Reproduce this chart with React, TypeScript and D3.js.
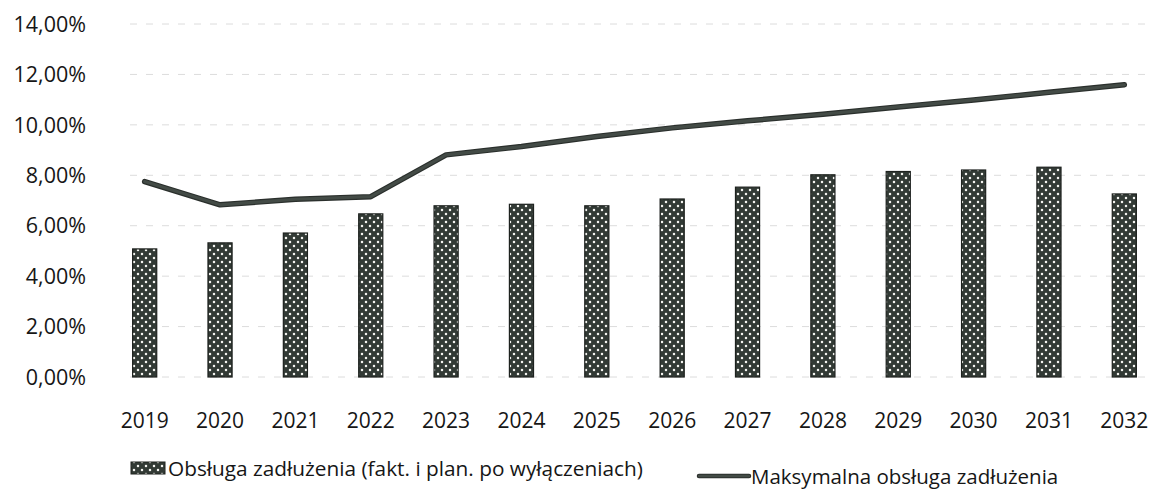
import React from "react";
import * as d3 from "d3";

const years = ["2019", "2020", "2021", "2022", "2023", "2024", "2025", "2026", "2027", "2028", "2029", "2030", "2031", "2032"];
const debtService = [5.08, 5.32, 5.71, 6.47, 6.79, 6.85, 6.79, 7.06, 7.53, 8.02, 8.15, 8.21, 8.32, 7.26];
const maxDebtService = [7.75, 6.83, 7.05, 7.15, 8.81, 9.14, 9.54, 9.88, 10.16, 10.42, 10.71, 10.99, 11.29, 11.59];
const yTicks = [0, 2, 4, 6, 8, 10, 12, 14];

const barLabel = "Obsługa zadłużenia (fakt. i plan. po wyłączeniach)";
const lineLabel = "Maksymalna obsługa zadłużenia";

const font = "'Open Sans', sans-serif";
const textColor = "#161616";
const barColor = "#323a35";
const lineColor = "#434b46";

export default function App() {
  const width = 1150;
  const height = 495;

  const x = d3.scaleBand<string>().domain(years).range([107, 1162]).paddingInner(0.68).paddingOuter(0.34);
  const y = d3.scaleLinear().domain([0, 14]).range([377, 24]);

  const line = d3
    .line<number>()
    .x((_, i) => (x(years[i]) as number) + x.bandwidth() / 2)
    .y((d) => y(d));

  const fmt = (v: number) => v.toFixed(2).replace(".", ",") + "%";

  return (
    <svg width={width} height={height} style={{ position: "absolute", left: 0, top: 0, background: "#fff" }}>
      <defs>
        <pattern id="dots" width="8" height="8" patternUnits="userSpaceOnUse">
          <rect width="8" height="8" fill={barColor} />
          <circle cx="2" cy="2" r="1.25" fill="#f4f4f0" />
          <circle cx="6" cy="6" r="1.25" fill="#f4f4f0" />
        </pattern>
      </defs>

      {/* grid */}
      {yTicks.map((t) => (
        <line
          key={"g" + t}
          x1={130}
          x2={1150}
          y1={y(t)}
          y2={y(t)}
          stroke="#dcdcdc"
          strokeWidth={1}
          strokeDasharray="7,9"
        />
      ))}

      {/* y ticks */}
      {yTicks.map((t) => (
        <text
          key={"t" + t}
          x={86}
          y={y(t)}
          dy="0.36em"
          textAnchor="end"
          fontFamily={font}
          fontSize={21.5}
          fill={textColor}
        >
          {fmt(t)}
        </text>
      ))}

      {/* bars */}
      {debtService.map((v, i) => (
        <rect
          key={"b" + i}
          x={x(years[i])}
          y={y(v)}
          width={x.bandwidth()}
          height={y(0) - y(v)}
          fill="url(#dots)"
          stroke="#1e221f"
          strokeWidth={1.2}
        />
      ))}

      {/* line */}
      <path d={line(maxDebtService) || ""} fill="none" stroke="#2a2f2c" strokeWidth={5.5} strokeLinejoin="round" strokeLinecap="round" />
      <path d={line(maxDebtService) || ""} fill="none" stroke={lineColor} strokeWidth={3.2} strokeLinejoin="round" strokeLinecap="round" />

      {/* x labels */}
      {years.map((yr) => (
        <text
          key={"x" + yr}
          x={(x(yr) as number) + x.bandwidth() / 2}
          y={428}
          textAnchor="middle"
          fontFamily={font}
          fontSize={21}
          fill={textColor}
        >
          {yr}
        </text>
      ))}

      {/* legend */}
      <rect x={131} y={462} width={34} height={12} fill="url(#dots)" stroke="#1e221f" strokeWidth={1} />
      <text x={168} y={476} fontFamily={font} fontSize={20.8} fill={textColor}>
        {barLabel}
      </text>
      <line x1={699} x2={749} y1={476} y2={476} stroke="#2a2f2c" strokeWidth={4.5} strokeLinecap="round" />
      <line x1={699} x2={749} y1={476} y2={476} stroke={lineColor} strokeWidth={2.5} strokeLinecap="round" />
      <text x={751} y={484} fontFamily={font} fontSize={20.5} fill={textColor}>
        {lineLabel}
      </text>
    </svg>
  );
}
